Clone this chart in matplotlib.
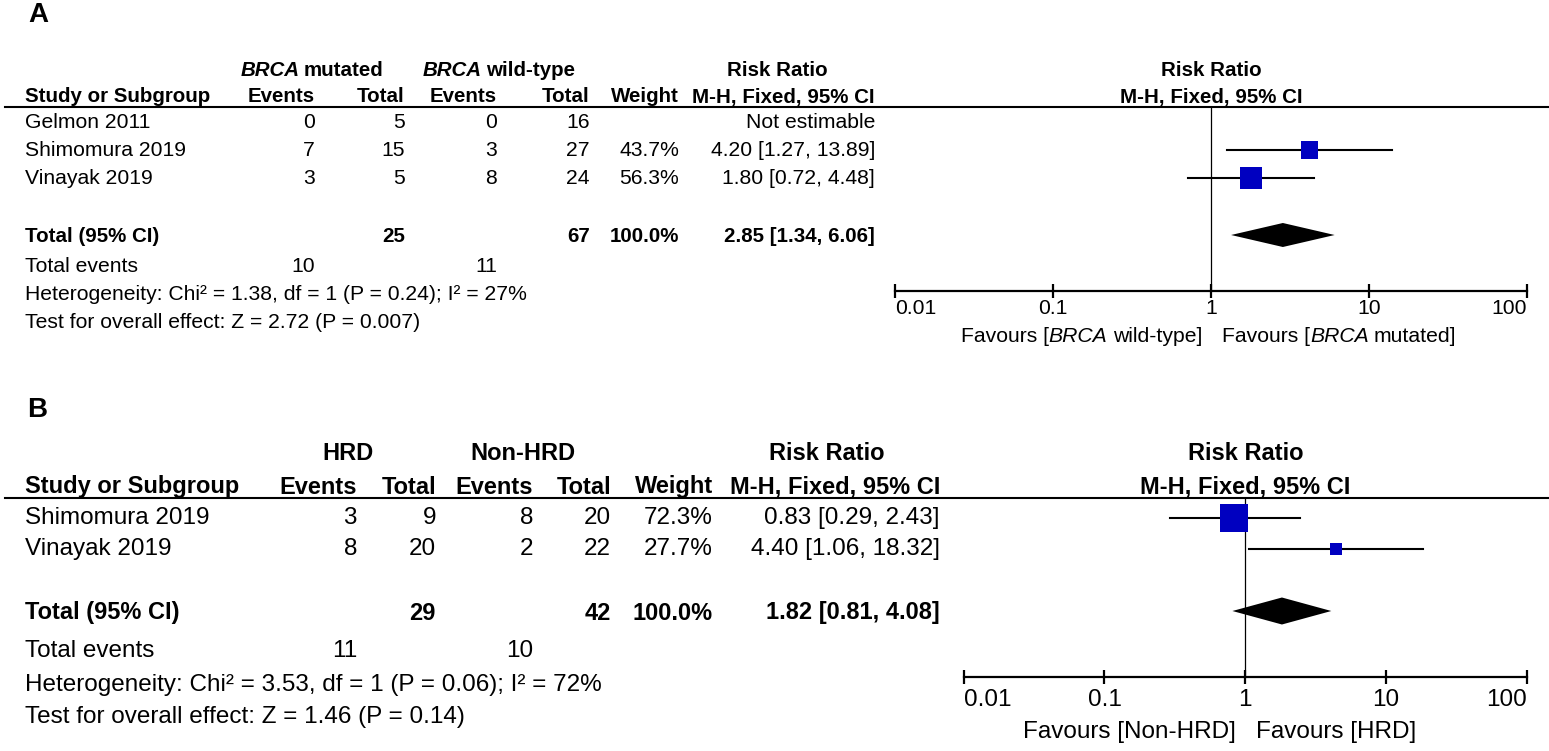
import matplotlib
matplotlib.use("Agg")
import matplotlib.pyplot as plt

plt.rcParams['font.family'] = ['Liberation Sans', 'DejaVu Sans']

# ---- panel A data ----
A_studies = ["Gelmon 2011", "Shimomura 2019", "Vinayak 2019"]
A_ev1 = [0, 7, 3]
A_tot1 = [5, 15, 5]
A_ev2 = [0, 3, 8]
A_tot2 = [16, 27, 24]
A_weight = [None, 43.7, 56.3]
A_rr = [None, 4.20, 1.80]
A_lo = [None, 1.27, 0.72]
A_hi = [None, 13.89, 4.48]
A_total_n = [25, 67]
A_total_events = [10, 11]
A_pooled = [2.85, 1.34, 6.06]
A_het = "Heterogeneity: Chi² = 1.38, df = 1 (P = 0.24); I² = 27%"
A_overall = "Test for overall effect: Z = 2.72 (P = 0.007)"

# ---- panel B data ----
B_studies = ["Shimomura 2019", "Vinayak 2019"]
B_ev1 = [3, 8]
B_tot1 = [9, 20]
B_ev2 = [8, 2]
B_tot2 = [20, 22]
B_weight = [72.3, 27.7]
B_rr = [0.83, 4.40]
B_lo = [0.29, 1.06]
B_hi = [2.43, 18.32]
B_total_n = [29, 42]
B_total_events = [11, 10]
B_pooled = [1.82, 0.81, 4.08]
B_het = "Heterogeneity: Chi² = 3.53, df = 1 (P = 0.06); I² = 72%"
B_overall = "Test for overall effect: Z = 1.46 (P = 0.14)"

tick_vals = [0.01, 0.1, 1, 10, 100]
tick_labels = ["0.01", "0.1", "1", "10", "100"]

W, H = 1549, 751
fig = plt.figure(figsize=(W / 100, H / 100), dpi=100)
ax0 = fig.add_axes([0, 0, 1, 1])
ax0.set_xlim(0, W)
ax0.set_ylim(H, 0)
ax0.axis('off')
renderer = fig.canvas.get_renderer()
SQ_BLUE = '#0000c0'


def rich_text(x, y, parts, ha, fs, weight='normal'):
    # parts: list of (string, fontstyle); leading space in a part = a gap
    gap = 0.24 * fs * 100 / 72
    texts = []
    cx = x
    for s, style in parts:
        if s.startswith(' '):
            cx += gap
        t = ax0.text(cx, y, s.strip(), ha='left', va='center', fontsize=fs,
                     fontstyle=style, fontweight=weight)
        texts.append((t, cx))
        cx += t.get_window_extent(renderer).width
        if s.endswith(' '):
            cx += gap
    width = cx - x
    shift = {'left': 0, 'center': width / 2, 'right': width}[ha]
    for t, px in texts:
        t.set_x(px - shift)


def draw_panel(lay, grp1, grp2, fav_l, fav_r, studies, ev1, tot1, ev2, tot2,
               weight, rr, lo, hi, total_n, total_events, pooled, het, overall):
    fs = lay['fs']
    fsb = lay['fsb']
    c = lay['cols']
    ax0.text(lay['label'][0], lay['label'][1], lay['name'], fontsize=20,
             fontweight='bold', ha='left', va='center')

    # headers
    rich_text(lay['grp_c'][0], lay['h1'], grp1, 'center', fsb, 'bold')
    rich_text(lay['grp_c'][1], lay['h1'], grp2, 'center', fsb, 'bold')
    ax0.text(lay['grp_c'][2], lay['h1'], "Risk Ratio", ha='center', va='center',
             fontsize=fsb, fontweight='bold')
    ax0.text(25, lay['h2'], "Study or Subgroup", ha='left', va='center',
             fontsize=fsb, fontweight='bold')
    for x, s in zip(c, ["Events", "Total", "Events", "Total", "Weight",
                        "M-H, Fixed, 95% CI"]):
        ax0.text(x, lay['h2'], s, ha='right', va='center', fontsize=fsb,
                 fontweight='bold')
    ax0.plot([5, W], [lay['line'], lay['line']], color='black', lw=1.5)

    # study rows
    for i, name in enumerate(studies):
        y = lay['rows'][i]
        ax0.text(25, y, name, ha='left', va='center', fontsize=fs)
        vals = [str(ev1[i]), str(tot1[i]), str(ev2[i]), str(tot2[i])]
        if weight[i] is None:
            vals += ["", "Not estimable"]
        else:
            vals += [f"{weight[i]:.1f}%",
                     f"{rr[i]:.2f} [{lo[i]:.2f}, {hi[i]:.2f}]"]
        for x, s in zip(c, vals):
            ax0.text(x, y, s, ha='right', va='center', fontsize=fs)

    # total rows
    y = lay['total']
    ax0.text(25, y, "Total (95% CI)", ha='left', va='center', fontsize=fsb,
             fontweight='bold')
    for x, s in zip([c[1], c[3], c[4], c[5]],
                    [str(total_n[0]), str(total_n[1]), "100.0%",
                     f"{pooled[0]:.2f} [{pooled[1]:.2f}, {pooled[2]:.2f}]"]):
        ax0.text(x, y, s, ha='right', va='center', fontsize=fsb,
                 fontweight='bold')
    y = lay['tev']
    ax0.text(25, y, "Total events", ha='left', va='center', fontsize=fs)
    ax0.text(c[0], y, str(total_events[0]), ha='right', va='center', fontsize=fs)
    ax0.text(c[2], y, str(total_events[1]), ha='right', va='center', fontsize=fs)
    ax0.text(25, lay['het'], het, ha='left', va='center', fontsize=fs)
    ax0.text(25, lay['test'], overall, ha='left', va='center', fontsize=fs)

    # forest plot
    x0, x1 = lay['plot']
    ax = fig.add_axes([x0 / W, 0, (x1 - x0) / W, 1])
    ax.set_xscale('log')
    ax.set_xlim(0.01, 100)
    ax.set_ylim(H, 0)
    ax.axis('off')
    ax.text(1, lay['h1'], "Risk Ratio", ha='center', va='center', fontsize=fsb,
            fontweight='bold')
    ax.text(1, lay['h2'], "M-H, Fixed, 95% CI", ha='center', va='center',
            fontsize=fsb, fontweight='bold')
    ax.plot([1, 1], [lay['line'], lay['axis']], color='black', lw=0.9)
    for i in range(len(studies)):
        if rr[i] is None:
            continue
        y = lay['rows'][i]
        ax.plot([lo[i], hi[i]], [y, y], color='black', lw=1.5)
        side = (2 + 0.35 * weight[i]) * 0.72
        ax.scatter([rr[i]], [y], marker='s', s=side ** 2, color=SQ_BLUE,
                   edgecolors='none', zorder=3)
    yd, hd = lay['total'] - 2, lay['diam_h']
    ax.fill([pooled[1], pooled[0], pooled[2], pooled[0]],
            [yd, yd - hd, yd, yd + hd], color='black', lw=0)
    ya = lay['axis']
    ax.plot([0.01, 100], [ya, ya], color='black', lw=1.6, clip_on=False)
    ax.vlines(tick_vals, ya - 7, ya + 7, color='black', lw=1.6, clip_on=False)
    for v, s in zip(tick_vals, tick_labels):
        ha = 'left' if v == 0.01 else ('right' if v == 100 else 'center')
        ax.text(v, lay['ticklab'], s, ha=ha, va='center', fontsize=fs,
                clip_on=False)
    px1 = ax.transData.transform((1, 0))[0]
    rich_text(px1 - 9, lay['fav'], fav_l, 'right', fs)
    rich_text(px1 + 11, lay['fav'], fav_r, 'left', fs)


layA = dict(name="A", label=(28, 15), h1=70, h2=97, line=106.5,
            rows=[123, 150, 178], total=237, tev=267, het=295, test=322,
            cols=[315, 405, 497, 590, 679, 875], grp_c=[312, 499, 777],
            plot=(895, 1527), axis=291, ticklab=309, fav=337, diam_h=12,
            fs=15.2, fsb=14.8)
layB = dict(name="B", label=(27, 410), h1=454, h2=487, line=497.5,
            rows=[518, 549], total=613, tev=651, het=685, test=717,
            cols=[357, 436, 533, 611, 713, 940], grp_c=[348, 523, 827],
            plot=(963.6, 1527), axis=677, ticklab=700, fav=732, diam_h=13.5,
            fs=17.5, fsb=17)

draw_panel(layA, [("BRCA", 'italic'), (" mutated", 'normal')],
           [("BRCA", 'italic'), (" wild-type", 'normal')],
           [("Favours [", 'normal'), ("BRCA", 'italic'), (" wild-type]", 'normal')],
           [("Favours [", 'normal'), ("BRCA", 'italic'), (" mutated]", 'normal')],
           A_studies, A_ev1, A_tot1, A_ev2, A_tot2, A_weight, A_rr, A_lo, A_hi,
           A_total_n, A_total_events, A_pooled, A_het, A_overall)

draw_panel(layB, [("HRD", 'normal')], [("Non-HRD", 'normal')],
           [("Favours [Non-HRD]", 'normal')], [("Favours [HRD]", 'normal')],
           B_studies, B_ev1, B_tot1, B_ev2, B_tot2, B_weight, B_rr, B_lo, B_hi,
           B_total_n, B_total_events, B_pooled, B_het, B_overall)

fig.savefig("out.png", dpi=100)
